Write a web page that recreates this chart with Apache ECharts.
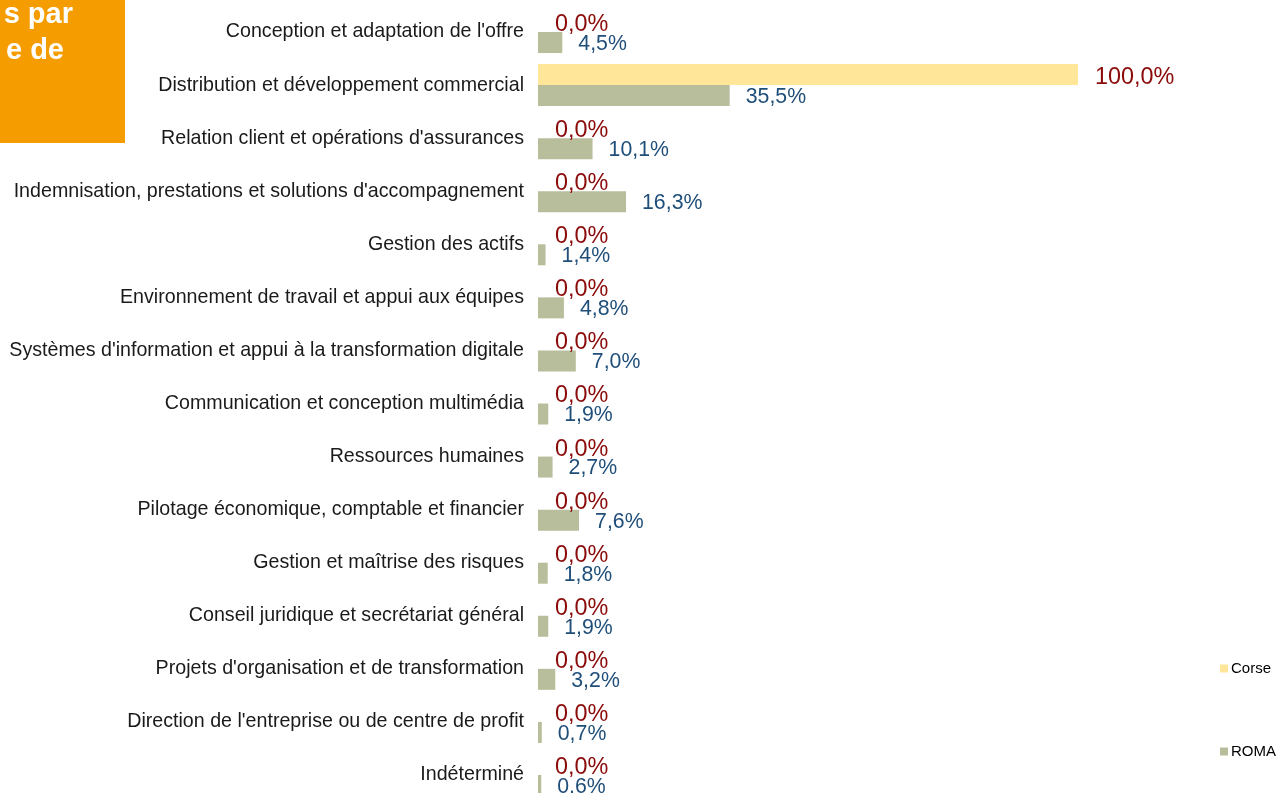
<!DOCTYPE html>
<html>
<head>
<meta charset="utf-8">
<script src="https://cdn.jsdelivr.net/npm/echarts@6/dist/echarts.min.js"></script>
<style>
  html, body { margin: 0; padding: 0; background: #fff; }
  #chart { width: 1278px; height: 793px; }
</style>
</head>
<body>
<div id="chart"></div>
<script>
// catégories (de haut en bas)
const categories = [
    "Conception et adaptation de l'offre",
    "Distribution et développement commercial",
    "Relation client et opérations d'assurances",
    "Indemnisation, prestations et solutions d'accompagnement",
    "Gestion des actifs",
    "Environnement de travail et appui aux équipes",
    "Systèmes d'information et appui à la transformation digitale",
    "Communication et conception multimédia",
    "Ressources humaines",
    "Pilotage économique, comptable et financier",
    "Gestion et maîtrise des risques",
    "Conseil juridique et secrétariat général",
    "Projets d'organisation et de transformation",
    "Direction de l'entreprise ou de centre de profit",
    "Indéterminé"
];

// valeurs en %
const corseValues = [0, 100, 0, 0, 0, 0, 0, 0, 0, 0, 0, 0, 0, 0, 0];
const romaValues = [4.5, 35.5, 10.1, 16.3, 1.4, 4.8, 7.0, 1.9, 2.7, 7.6, 1.8, 1.9, 3.2, 0.7, 0.6];

// séparateur décimal (la dernière étiquette ROMA utilise un point dans l'original)
const romaSeparators = [',', ',', ',', ',', ',', ',', ',', ',', ',', ',', ',', ',', ',', ',', '.'];

function pct(v, sep) {
    return v.toFixed(1).replace('.', sep || ',') + '%';
}

const chart = echarts.init(document.getElementById('chart'));
const option = {
    animation: false,
    grid: {
        left: 538,
        right: 200,
        top: 5.5,
        height: 796,
        outerBoundsMode: 'none'
    },
    legend: {
        data: ['Corse', 'ROMA'],
        orient: 'vertical',
        left: 1220,
        top: 661,
        padding: 0,
        itemWidth: 8,
        itemHeight: 8,
        itemGap: 68,
        icon: 'rect',
        textStyle: {
            fontFamily: 'Liberation Sans',
            fontSize: 15,
            color: '#000',
            padding: [0, 0, 0, -2]
        }
    },
    xAxis: {
        type: 'value',
        min: 0,
        max: 100,
        show: false
    },
    yAxis: {
        type: 'category',
        data: categories,
        inverse: true,
        axisLine: { show: false },
        axisTick: { show: false },
        axisLabel: {
            margin: 14,
            fontFamily: 'Liberation Sans',
            fontSize: 19.65,
            color: '#1a1a1a'
        }
    },
    series: [
        {
            name: 'Corse',
            type: 'bar',
            data: corseValues,
            barWidth: 21,
            barGap: '0%',
            itemStyle: { color: '#FFE699' },
            label: {
                show: true,
                position: 'right',
                distance: 17,
                offset: [0, 3],
                formatter: p => pct(p.value),
                fontFamily: 'Liberation Sans',
                fontSize: 23.4,
                color: '#8B0A0A'
            }
        },
        {
            name: 'ROMA',
            type: 'bar',
            data: romaValues,
            barWidth: 21,
            itemStyle: { color: '#B8BE9B' },
            label: {
                show: true,
                position: 'right',
                distance: 16,
                offset: [0, 1.5],
                formatter: p => pct(p.value, romaSeparators[p.dataIndex]),
                fontFamily: 'Liberation Sans',
                fontSize: 21.3,
                color: '#1F4E79'
            }
        }
    ],
    graphic: [
        {
            type: 'rect',
            shape: { x: 0, y: 0, width: 125, height: 143 },
            style: { fill: '#F59C00' }
        },
        {
            type: 'text',
            style: {
                x: 73,
                y: 15,
                text: 's par',
                align: 'right',
                verticalAlign: 'middle',
                font: 'bold 29px "Liberation Sans"',
                fill: '#fff'
            }
        },
        {
            type: 'text',
            style: {
                x: 64,
                y: 51,
                text: 'e de',
                align: 'right',
                verticalAlign: 'middle',
                font: 'bold 29px "Liberation Sans"',
                fill: '#fff'
            }
        }
    ]
};
chart.setOption(option);

window.addEventListener('resize', function() {
    chart.resize();
});
</script>
</body>
</html>
